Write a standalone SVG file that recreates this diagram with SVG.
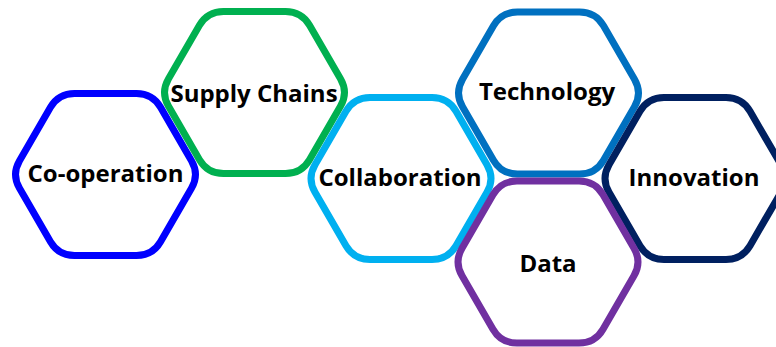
<svg xmlns="http://www.w3.org/2000/svg" xmlns:xlink="http://www.w3.org/1999/xlink" width="776" height="347" viewBox="0 0 776 347">
<style>
.hex{fill:#fff;stroke-width:7}
.lbl{font-family:"Open Sans","Liberation Sans",sans-serif;font-weight:700;font-size:24px;fill:#000;text-anchor:middle}
</style>
<defs>
<path id="hexshape" d="M-31,-81 L31,-81 Q47,-81 55.03,-67.16 L85.97,-13.84 Q94,0 85.97,13.84 L55.03,67.16 Q47,81 31,81 L-31,81 Q-47,81 -55.03,67.16 L-85.97,13.84 Q-94,0 -85.97,-13.84 L-55.03,-67.16 Q-47,-81 -31,-81 Z"/>
</defs>
<rect width="776" height="347" fill="#fff"/>
<g id="connectors"></g>
<g id="cooperation">
<use xlink:href="#hexshape" class="hex" stroke="#0000FF" transform="translate(105.5,174.5)"/>
<text class="lbl" x="105.5" y="181.5">Co-operation</text>
</g>
<g id="supply-chains">
<use xlink:href="#hexshape" class="hex" stroke="#00B050" transform="translate(254.5,92.5)"/>
<text class="lbl" x="254" y="101.5">Supply Chains</text>
</g>
<g id="collaboration">
<use xlink:href="#hexshape" class="hex" stroke="#00B0F0" transform="translate(401,178.5)"/>
<text class="lbl" x="400" y="185.5">Collaboration</text>
</g>
<g id="technology">
<use xlink:href="#hexshape" class="hex" stroke="#0070C0" transform="translate(548.5,93)"/>
<text class="lbl" x="547" y="100">Technology</text>
</g>
<g id="innovation">
<use xlink:href="#hexshape" class="hex" stroke="#002060" transform="translate(695,178.5)"/>
<text class="lbl" x="694" y="185.5">Innovation</text>
</g>
<g id="data">
<use xlink:href="#hexshape" class="hex" stroke="#7030A0" transform="translate(548,262)"/>
<text class="lbl" x="548" y="272">Data</text>
</g>
</svg>
